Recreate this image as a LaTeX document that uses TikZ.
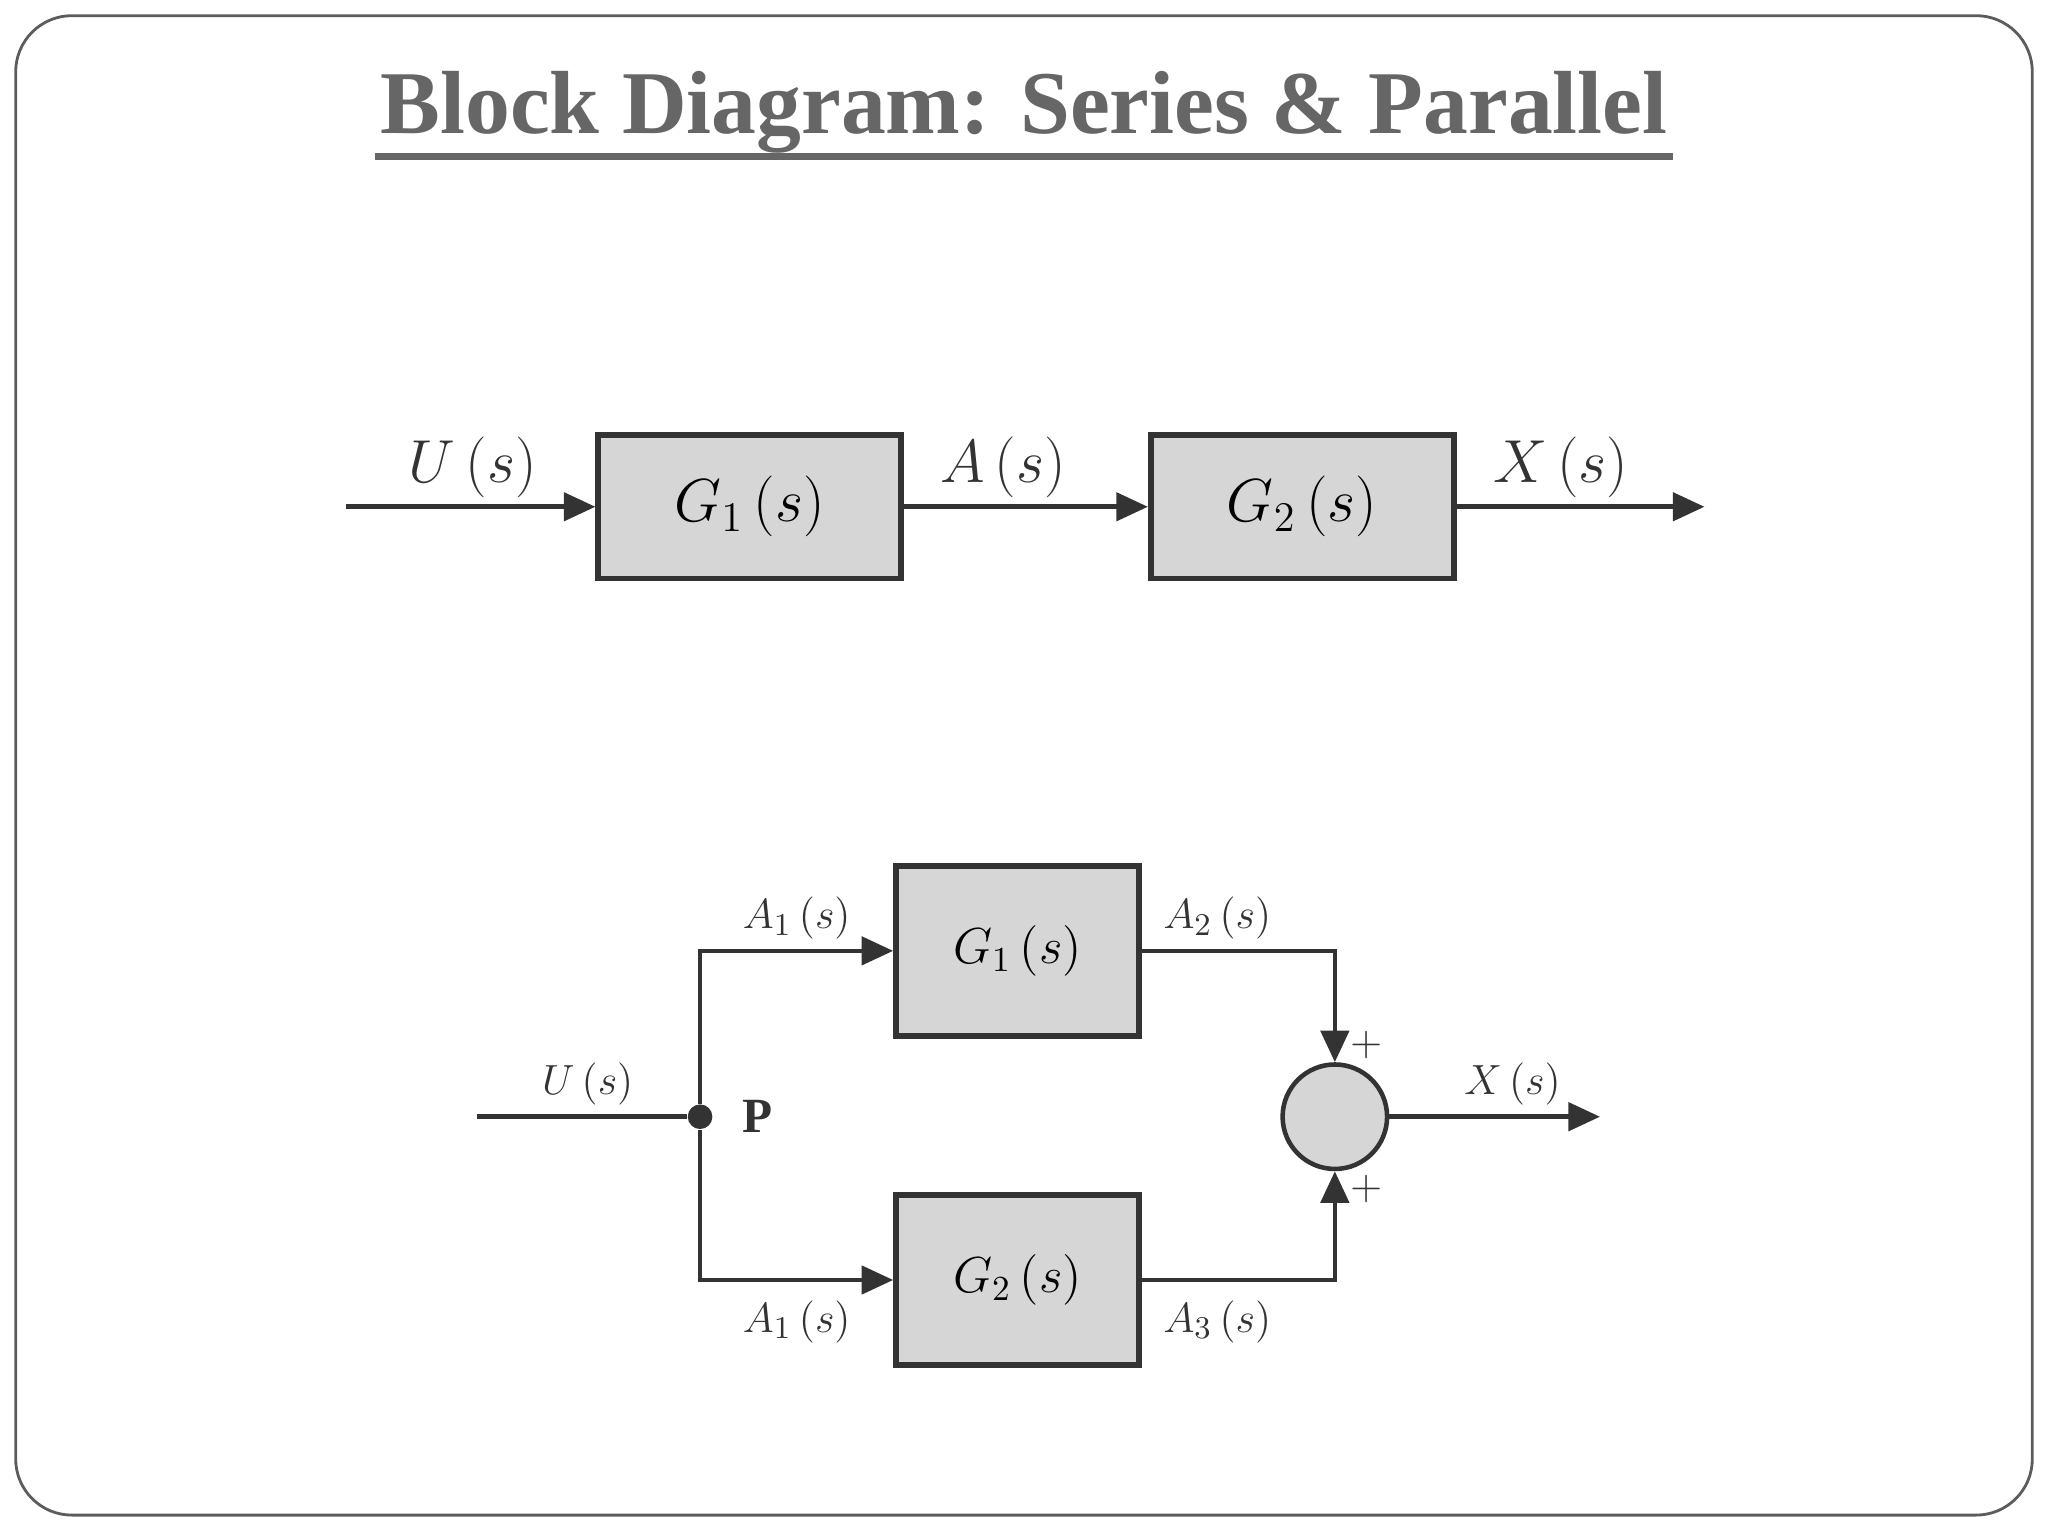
\documentclass[tikz,border=0pt]{standalone}
\usepackage{fontspec}
\setmainfont{Liberation Serif}
\usetikzlibrary{arrows.meta}
\definecolor{bfill}{HTML}{D6D6D6}
\definecolor{ink}{HTML}{333333}
\begin{document}
\begin{tikzpicture}[x=0.01306cm,y=-0.01306cm,
  blk/.style={draw=ink,line width=1.6pt,fill=bfill,minimum width=232*0.01306cm,minimum height=110*0.01306cm,inner sep=0pt,font=\fontsize{17}{20}\selectfont},
  pblk/.style={blk,minimum width=186*0.01306cm,minimum height=130*0.01306cm,font=\fontsize{14}{17}\selectfont},
  sig/.style={draw=ink,line width=1.3pt},
  arr/.style={sig,-{Triangle[length=9pt,width=8pt]}},
  lab/.style={font=\fontsize{17}{20}\selectfont,text=ink},
  plab/.style={font=\fontsize{13}{16}\selectfont,text=ink}]
\useasboundingbox (0,0) rectangle (1568,1176);
\draw[draw=ink!80,line width=0.8pt,rounded corners=16pt] (12,12) rectangle (1556,1160);
\node[font=\bfseries\fontsize{25.5}{30}\selectfont,text=black!60,inner sep=0pt] (title) at (784,86) {Block Diagram: Series \& Parallel};
\draw[black!60,line width=2pt] (287,120) -- (1281,120);
% series
\coordinate (sin) at (265,388);
\node[blk] (s1) at (574,388) {$G_1\,(s)$};
\node[blk] (s2) at (997,388) {$G_2\,(s)$};
\coordinate (sout) at (1305,388);
\draw[arr] (sin) -- (s1.west);
\draw[arr] (s1.east) -- (s2.west);
\draw[arr] (s2.east) -- (sout);
\node[lab] (l1) at (362,358) {$U\,(s)$};
\node[lab] (l2) at (768,358) {$A\,(s)$};
\node[lab] (l3) at (1195,358) {$X\,(s)$};
% parallel
\coordinate (pin) at (365,855);
\node[circle,fill=ink,inner sep=0pt,minimum size=7pt] (P) at (536,855) {};
\node[pblk] (p1) at (779,728) {$G_1\,(s)$};
\node[pblk] (p2) at (779,980) {$G_2\,(s)$};
\node[circle,draw=ink,line width=1.3pt,fill=bfill,minimum size=80*0.01306cm,inner sep=0pt] (sum) at (1022,855) {};
\coordinate (pout) at (1225,855);
\draw[sig] (pin) -- (P);
\draw[arr] (P) |- (p1.west);
\draw[arr] (P) |- (p2.west);
\draw[arr] (p1.east) -| (sum.north);
\draw[arr] (p2.east) -| (sum.south);
\draw[arr] (sum.east) -- (pout);
\node[plab] (q1) at (450,830) {$U\,(s)$};
\node[font=\bfseries\fontsize{14}{17}\selectfont,text=ink] (pl) at (580,855) {P};
\node[plab] (q2) at (610,703) {$A_1\,(s)$};
\node[plab] (q3) at (610,1012) {$A_1\,(s)$};
\node[plab] (q4) at (932,703) {$A_2\,(s)$};
\node[plab] (q5) at (932,1012) {$A_3\,(s)$};
\node[plab] (q6) at (1158,830) {$X\,(s)$};
\node[plab] (pp1) at (1046,800) {$+$};
\node[plab] (pp2) at (1046,910) {$+$};
\end{tikzpicture}
\end{document}
